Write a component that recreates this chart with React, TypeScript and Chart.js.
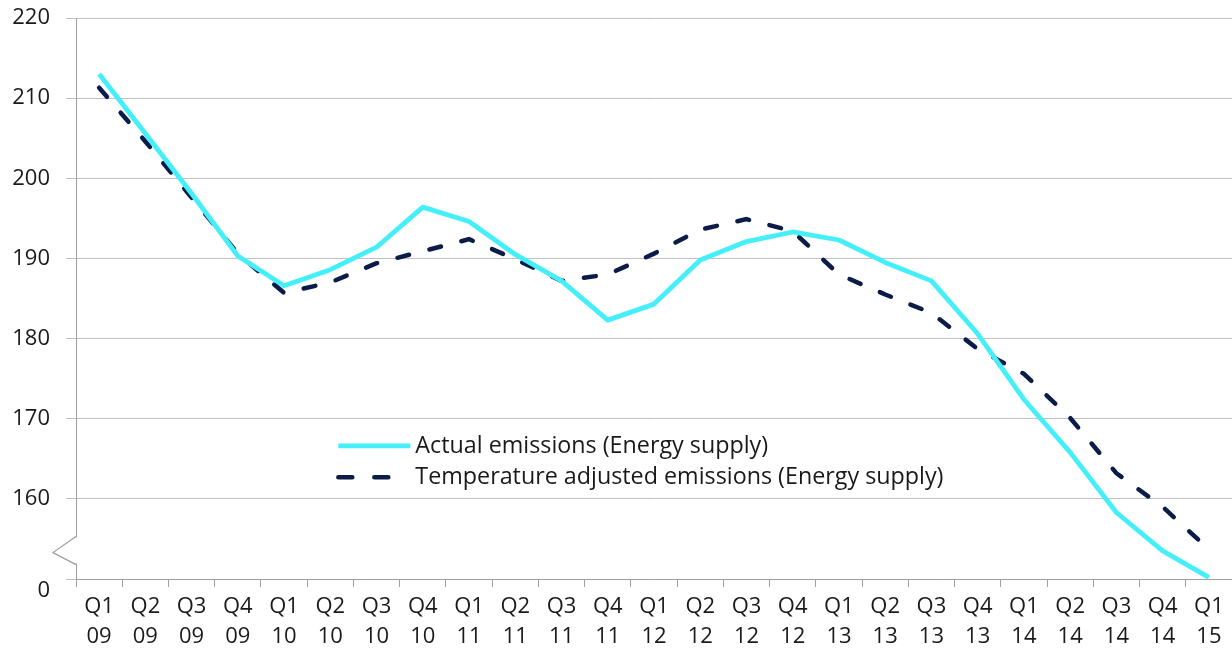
import React, { useEffect, useRef } from "react";
import { Chart, registerables } from "chart.js";

Chart.register(...registerables);

const categories = [
  "Q1 09", "Q2 09", "Q3 09", "Q4 09",
  "Q1 10", "Q2 10", "Q3 10", "Q4 10",
  "Q1 11", "Q2 11", "Q3 11", "Q4 11",
  "Q1 12", "Q2 12", "Q3 12", "Q4 12",
  "Q1 13", "Q2 13", "Q3 13", "Q4 13",
  "Q1 14", "Q2 14", "Q3 14", "Q4 14",
  "Q1 15",
];

const actualEmissions = [
  213.0, 205.6, 198.1, 190.3,
  186.6, 188.6, 191.4, 196.4,
  194.6, 190.5, 187.2, 182.3,
  184.3, 189.8, 192.1, 193.3,
  192.3, 189.5, 187.2, 180.6,
  172.4, 165.8, 158.3, 153.5,
  150.2,
];

const adjustedEmissions = [
  211.3, 204.6, 197.6, 190.6,
  185.7, 187.0, 189.4, 190.9,
  192.4, 189.9, 187.2, 188.0,
  190.6, 193.6, 194.9, 193.4,
  188.0, 185.5, 183.2, 178.7,
  175.6, 170.1, 163.2, 159.0,
  153.7,
];

const seriesNames = [
  "Actual emissions (Energy supply)",
  "Temperature adjusted emissions (Energy supply)",
];

// y axis: visible range 150..220, with the bottom tick shown as "0" (axis break)
const yMin = 150;
const yMax = 220;
const yStep = 10;
const breakLabel = "0";

const AXIS_FONT = "Open Sans";
const LEGEND_FONT = "Open Sans";
const TEXT = "#1a1a1a";

const breakPlugin = {
  id: "axisBreak",
  afterDraw(chart: any) {
    const ctx = chart.ctx;
    const y = chart.scales.y;
    const left = chart.chartArea.left;
    const yTop = y.getPixelForValue(155.3);
    const yMid = y.getPixelForValue(153.3);
    const yBot = y.getPixelForValue(151.8);
    ctx.save();
    ctx.fillStyle = "#ffffff";
    ctx.fillRect(left - 3, yTop + 1, 6, yBot - yTop - 2);
    ctx.strokeStyle = "#a0a0a0";
    ctx.lineWidth = 1.3;
    ctx.beginPath();
    ctx.moveTo(left, yTop);
    ctx.lineTo(left - 23, yMid);
    ctx.lineTo(left, yBot);
    ctx.stroke();
    ctx.restore();
  },
};

const legendPlugin = {
  id: "insideLegend",
  afterDraw(chart: any) {
    const ctx = chart.ctx;
    const x = chart.scales.x;
    const y = chart.scales.y;
    const x0 = x.getPixelForValue(5);
    const rows = [y.getPixelForValue(166.6), y.getPixelForValue(162.7)];
    ctx.save();
    chart.data.datasets.forEach((ds: any, i: number) => {
      const yy = rows[i];
      ctx.strokeStyle = ds.borderColor;
      ctx.lineWidth = ds.borderWidth;
      ctx.lineCap = i === 1 ? "round" : "butt";
      ctx.setLineDash(i === 1 ? [14, 22] : []);
      ctx.beginPath();
      ctx.moveTo(x0 + 8, yy);
      ctx.lineTo(x0 + 80, yy);
      ctx.stroke();
      ctx.setLineDash([]);
      ctx.fillStyle = TEXT;
      ctx.font = `23.3px ${LEGEND_FONT}`;
      ctx.textBaseline = "middle";
      ctx.textAlign = "left";
      ctx.fillText(ds.label, x0 + 85, yy);
    });
    ctx.restore();
  },
};

export default function App() {
  const canvasRef = useRef<HTMLCanvasElement | null>(null);

  useEffect(() => {
    if (!canvasRef.current) return;
    const chart = new Chart(canvasRef.current, {
      type: "line",
      data: {
        labels: categories.map((c) => c.split(" ")),
        datasets: [
          {
            label: seriesNames[0],
            data: actualEmissions,
            borderColor: "#45EFF9",
            borderWidth: 4.8,
            pointRadius: 0,
            tension: 0,
            fill: false,
            clip: false as any,
            borderJoinStyle: "round",
          },
          {
            label: seriesNames[1],
            data: adjustedEmissions,
            borderColor: "#0B1C48",
            borderWidth: 4.5,
            borderDash: [12, 21],
            borderCapStyle: "round",
            pointRadius: 0,
            tension: 0,
            fill: false,
            clip: false as any,
          },
        ],
      },
      options: {
        animation: false,
        responsive: true,
        maintainAspectRatio: false,
        layout: { padding: 0 },
        plugins: {
          legend: { display: false },
          tooltip: { enabled: false },
        },
        scales: {
          x: {
            type: "category",
            offset: true,
            grid: {
              offset: true,
              drawOnChartArea: false,
              drawTicks: true,
              tickLength: 8,
              color: "#a0a0a0",
            },
            border: { color: "#a0a0a0", width: 1 },
            ticks: {
              autoSkip: false,
              maxRotation: 0,
              padding: 4,
              color: TEXT,
              font: { family: AXIS_FONT, size: 22, lineHeight: 1.4 },
            },
            afterFit(scale: any) {
              scale.height = 80;
            },
          },
          y: {
            min: yMin,
            max: yMax,
            ticks: {
              stepSize: yStep,
              padding: 16,
              color: TEXT,
              font: { family: AXIS_FONT, size: 22, lineHeight: 1.1 },
              callback: (v: any) => (Number(v) === yMin ? ["", breakLabel] : String(v)),
            },
            grid: {
              color: "#c0c0c0",
              lineWidth: 1,
              tickLength: 10,
            },
            border: { color: "#a0a0a0", width: 1 },
            afterFit(scale: any) {
              scale.width = 76;
              scale.paddingTop = 18;
              scale.paddingBottom = 0;
            },
          },
        },
      },
      plugins: [breakPlugin, legendPlugin],
    });
    return () => chart.destroy();
  }, []);

  return (
    <div style={{ position: "fixed", left: 0, top: 0, width: 1232, height: 659, background: "#fff" }}>
      <canvas ref={canvasRef} />
    </div>
  );
}
